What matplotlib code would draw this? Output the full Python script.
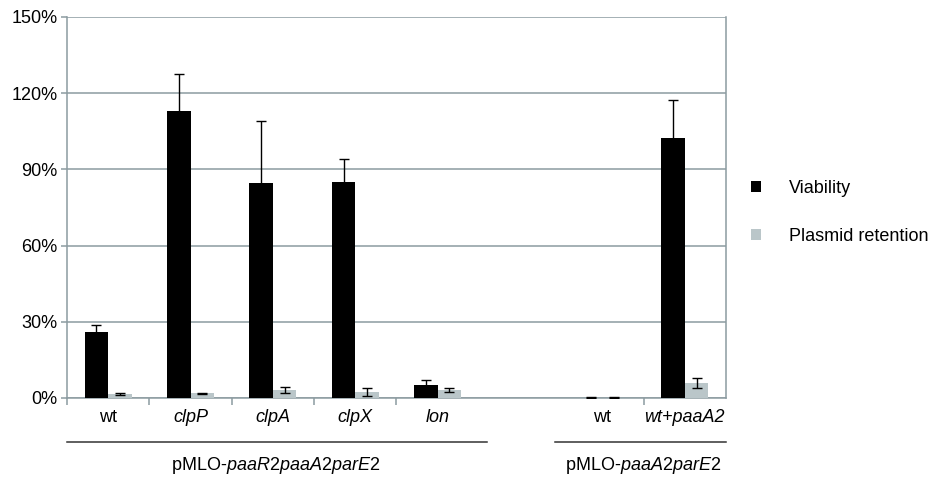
import matplotlib.pyplot as plt
import numpy as np

plt.rcParams['font.family'] = ['Liberation Sans', 'DejaVu Sans']
plt.rcParams['mathtext.fontset'] = 'custom'
plt.rcParams['mathtext.rm'] = 'Liberation Sans'
plt.rcParams['mathtext.it'] = 'Liberation Sans:italic'

# data (percent)
strains = ["wt", "clpP", "clpA", "clpX", "lon", "", "wt", "wt+paaA2"]
italic_labels = [False, True, True, True, True, False, False, True]
viability = [26.0, 113.0, 84.6, 84.9, 5.0, np.nan, 0.1, 102.2]
viability_err = [2.8, 14.6, 24.3, 9.3, 2.1, np.nan, 0.1, 15.1]
retention = [1.5, 1.8, 3.1, 2.2, 3.1, np.nan, 0.1, 5.8]
retention_err = [0.3, 0.3, 1.1, 1.6, 0.9, np.nan, 0.1, 2.0]
groups = ["pMLO-$\\mathit{paaR2paaA2parE2}$", "pMLO-$\\mathit{paaA2parE2}$"]
group_spans = [(-0.5, 4.6), (5.43, 7.5)]
group_label_x = [2.03, 6.5]

grid_color = "#8c9ba1"
black = "#000000"
gray = "#bac6c9"
FS = 13


def make_plot():
    fig = plt.figure(figsize=(9.36, 4.83), dpi=100)
    ax = fig.add_axes([0.0716, 0.176, 0.7040, 0.789])

    x = np.arange(len(strains))
    w = 0.285
    err_kw = dict(ecolor=black, elinewidth=1.0, capsize=3.8, capthick=1.0)
    ax.bar(x - w / 2, viability, w, color=black, yerr=viability_err,
           error_kw=err_kw, zorder=3, label="Viability")
    ax.bar(x + w / 2, retention, w, color=gray, yerr=retention_err,
           error_kw=err_kw, zorder=3, label="Plasmid retention")

    ax.set_xlim(-0.5, 7.5)
    ax.set_ylim(0, 150)
    ax.set_yticks(np.arange(0, 151, 30))
    ax.set_yticklabels([f"{v}%" for v in range(0, 151, 30)], fontsize=FS)
    ax.yaxis.grid(True, color=grid_color, linewidth=1.1, zorder=0)

    ax.set_xticks(x)
    ax.set_xticklabels(strains, fontsize=FS)
    for lbl, it in zip(ax.get_xticklabels(), italic_labels):
        if it:
            lbl.set_fontstyle("italic")
    ax.set_xticks([-0.5, 0.5, 1.5, 2.5, 3.5, 5.0, 6.5], minor=True)
    ax.tick_params(axis="x", which="major", length=0, pad=8)
    ax.tick_params(axis="x", which="minor", length=5, color=grid_color, width=1.1)
    ax.tick_params(axis="y", length=4, color=grid_color, width=1.1, pad=3)

    for side in ["left", "right", "bottom"]:
        ax.spines[side].set_color(grid_color)
        ax.spines[side].set_linewidth(1.1)
    ax.spines["top"].set_visible(False)

    # group brackets under the categories
    trans = ax.get_xaxis_transform()
    for label, (x0, x1), lx in zip(groups, group_spans, group_label_x):
        ax.plot([x0, x1], [-0.115, -0.115], color="#333333", lw=1.1,
                transform=trans, clip_on=False)
        ax.text(lx, -0.178, label, transform=trans, ha="center",
                va="center", fontsize=FS)

    fig.legend(loc="upper left", bbox_to_anchor=(0.785, 0.662),
               frameon=False, fontsize=FS, handlelength=0.55,
               handleheight=0.55, labelspacing=1.75, handletextpad=1.55)
    return fig


def main():
    fig = make_plot()
    fig.savefig("out.png", dpi=100)


if __name__ == "__main__":
    main()
